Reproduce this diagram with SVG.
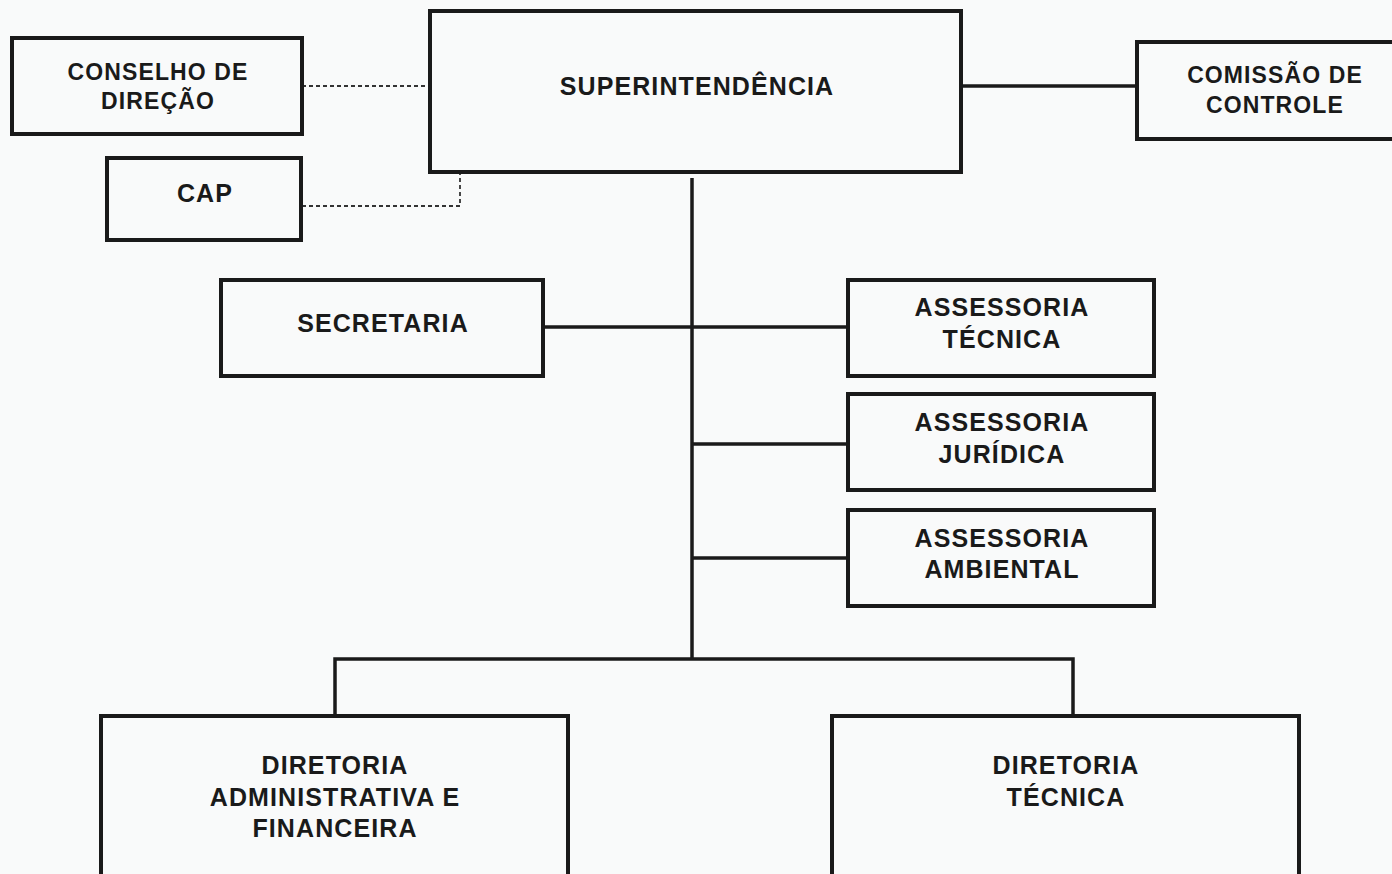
<svg xmlns="http://www.w3.org/2000/svg" width="1392" height="874" viewBox="0 0 1392 874">
<style>
.bx{fill:#f9fafa;stroke:#1a1a1a;stroke-width:4}
.ln{fill:none;stroke:#1a1a1a;stroke-width:3.5}
.ds{fill:none;stroke:#333;stroke-width:1.8;stroke-dasharray:4 3}
text{font-family:"Liberation Sans",Arial,sans-serif;font-weight:bold;font-size:25px;letter-spacing:1.1px;fill:#1a1a1a;text-anchor:middle}
text.sm{font-size:23px}
</style>
<rect width="1392" height="874" fill="#f9fafa"/>
<g id="connectors">
<path class="ln" d="M692 178V659M543 327H848M692 444H848M692 558H848M335 716V659H1073V716M961 86H1137"/>
<path class="ds" d="M302 86H430M302 206H460V172"/>
</g>
<g id="conselho"><rect class="bx" x="12" y="38" width="290" height="96"/><text class="sm" x="158" y="80">CONSELHO DE</text><text class="sm" x="158" y="109">DIREÇÃO</text></g>
<g id="cap"><rect class="bx" x="107" y="158" width="194" height="82"/><text x="205" y="202">CAP</text></g>
<g id="superintendencia"><rect class="bx" x="430" y="11" width="531" height="161"/><text x="697" y="95">SUPERINTENDÊNCIA</text></g>
<g id="comissao"><rect class="bx" x="1137" y="42" width="258" height="97"/><text class="sm" x="1275" y="83">COMISSÃO DE</text><text class="sm" x="1275" y="113">CONTROLE</text></g>
<g id="secretaria"><rect class="bx" x="221" y="280" width="322" height="96"/><text x="383" y="332">SECRETARIA</text></g>
<g id="ass-tecnica"><rect class="bx" x="848" y="280" width="306" height="96"/><text x="1002" y="316">ASSESSORIA</text><text x="1002" y="348">TÉCNICA</text></g>
<g id="ass-juridica"><rect class="bx" x="848" y="394" width="306" height="96"/><text x="1002" y="431">ASSESSORIA</text><text x="1002" y="463">JURÍDICA</text></g>
<g id="ass-ambiental"><rect class="bx" x="848" y="510" width="306" height="96"/><text x="1002" y="547">ASSESSORIA</text><text x="1002" y="578">AMBIENTAL</text></g>
<g id="dir-adm"><rect class="bx" x="101" y="716" width="467" height="170"/><text x="335" y="774">DIRETORIA</text><text x="335" y="806">ADMINISTRATIVA E</text><text x="335" y="837">FINANCEIRA</text></g>
<g id="dir-tec"><rect class="bx" x="832" y="716" width="467" height="170"/><text x="1066" y="774">DIRETORIA</text><text x="1066" y="806">TÉCNICA</text></g>
</svg>
